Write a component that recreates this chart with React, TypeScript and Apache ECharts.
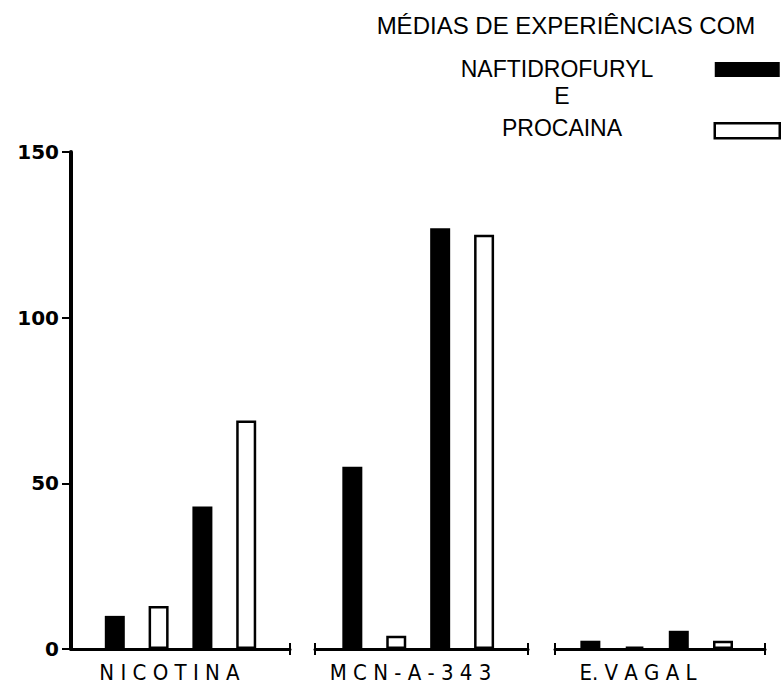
import React, { useEffect, useRef } from "react";
import * as echarts from "echarts";

// ---- data ----
const groupNames = ["N I C O T I N A", "M C N - A - 3 4 3", "E. V A G A L"];
const seriesNames = ["NAFTIDROFURYL", "PROCAINA"];
const nicotinaNaft = [10, 43];
const nicotinaProc = [13, 69];
const mcnNaft = [55, 127];
const mcnProc = [4, 125];
const vagalNaft = [2.5, 5.5];
const vagalProc = [0.7, 2.5];
const naftSlots = [1, 3];
const procSlots = [2, 4];
const yTicks = [0, 50, 100, 150];

const titleMain = "MÉDIAS DE EXPERIÊNCIAS COM";
const titleE = "E";

export default function App() {
  const ref = useRef<HTMLDivElement>(null);
  useEffect(() => {
    document.body.style.margin = "0";
    const chart = echarts.init(ref.current!, null, { renderer: "svg" });

    const naftGroups = [nicotinaNaft, mcnNaft, vagalNaft];
    const procGroups = [nicotinaProc, mcnProc, vagalProc];
    const grids = [
      { left: 71, right: 491, top: 152, bottom: 39 },
      { left: 315, right: 253, top: 152, bottom: 39 },
      { left: 555, right: 16, top: 152, bottom: 39 },
    ];
    const ranges = [
      [0, 5],
      [0.15, 5],
      [0.2, 4.95],
    ];
    const namePads = [22, 22, 44];
    const labelFont = "'Liberation Sans Narrow', 'DejaVu Sans Condensed', sans-serif";

    const xAxis: any[] = [];
    grids.forEach((_, i) => {
      const [mn, mx] = ranges[i];
      const ends = i === 0 ? [mx] : [mn, mx];
      xAxis.push({
        type: "value",
        gridIndex: i,
        min: mn,
        max: mx,
        position: "bottom",
        axisLine: { show: true, onZero: false, lineStyle: { color: "#000", width: 3 } },
        axisTick: { show: true, customValues: ends, length: 6, lineStyle: { color: "#000", width: 2 } },
        axisLabel: { show: false },
        splitLine: { show: false },
        name: groupNames[i],
        nameLocation: "middle",
        nameGap: 12,
        nameTextStyle: {
          color: "#000",
          fontSize: 22,
          fontFamily: labelFont,
          padding: [0, namePads[i], 0, 0],
        },
      });
      xAxis.push({
        type: "value",
        gridIndex: i,
        min: mn,
        max: mx,
        position: "bottom",
        axisLine: { show: false, onZero: false },
        axisTick: { show: true, inside: true, customValues: ends, length: 6, lineStyle: { color: "#000", width: 2 } },
        axisLabel: { show: false },
        splitLine: { show: false },
      });
    });

    const yAxis = grids.map((_, i) => ({
      type: "value",
      gridIndex: i,
      min: yTicks[0],
      max: yTicks[yTicks.length - 1],
      interval: yTicks[1] - yTicks[0],
      show: i === 0,
      axisLine: { show: true, lineStyle: { color: "#000", width: 4 } },
      axisTick: { show: true, length: 9, lineStyle: { color: "#000", width: 2 } },
      axisLabel: {
        color: "#000",
        fontSize: 20,
        fontWeight: "bold",
        fontFamily: "'DejaVu Sans', sans-serif",
        margin: 12,
      },
      splitLine: { show: false },
    }));

    const series: any[] = [];
    grids.forEach((_, i) => {
      series.push({
        type: "bar",
        name: seriesNames[0],
        xAxisIndex: i * 2,
        yAxisIndex: i,
        barWidth: 20,
        barGap: "-100%",
        data: naftGroups[i].map((v, k) => [naftSlots[k], v]),
        itemStyle: { color: "#000" },
      });
      series.push({
        type: "bar",
        name: seriesNames[1],
        xAxisIndex: i * 2,
        yAxisIndex: i,
        barWidth: 20,
        barGap: "-100%",
        data: procGroups[i].map((v, k) => [procSlots[k], v]),
        itemStyle: { color: "#fff", borderColor: "#000", borderWidth: 2.5 },
      });
    });

    const textFont = "'Liberation Sans', Arial, sans-serif";
    chart.setOption({
      animation: false,
      backgroundColor: "#fff",
      grid: grids,
      xAxis,
      yAxis,
      series,
      legend: {
        orient: "vertical",
        right: 0,
        top: 62,
        padding: 0,
        itemWidth: 65,
        itemHeight: 15,
        itemGap: 45,
        selectedMode: false,
        formatter: () => "",
        data: [
          { name: seriesNames[0], icon: "rect", itemStyle: { color: "#000" } },
          { name: seriesNames[1], icon: "rect", itemStyle: { color: "#fff", borderColor: "#000", borderWidth: 2.5 } },
        ],
      },
      graphic: [
        { type: "text", x: 566, y: 25, style: { text: titleMain, align: "center", verticalAlign: "middle", fontSize: 24, fontFamily: textFont, fill: "#000" } },
        { type: "text", x: 557, y: 69, style: { text: seriesNames[0], align: "center", verticalAlign: "middle", fontSize: 23, fontFamily: textFont, fill: "#000" } },
        { type: "text", x: 562, y: 96, style: { text: titleE, align: "center", verticalAlign: "middle", fontSize: 23, fontFamily: textFont, fill: "#000" } },
        { type: "text", x: 562, y: 128, style: { text: seriesNames[1], align: "center", verticalAlign: "middle", fontSize: 23, fontFamily: textFont, fill: "#000" } },
      ],
    });
    return () => chart.dispose();
  }, []);
  return <div ref={ref} style={{ width: 781, height: 688 }} />;
}
